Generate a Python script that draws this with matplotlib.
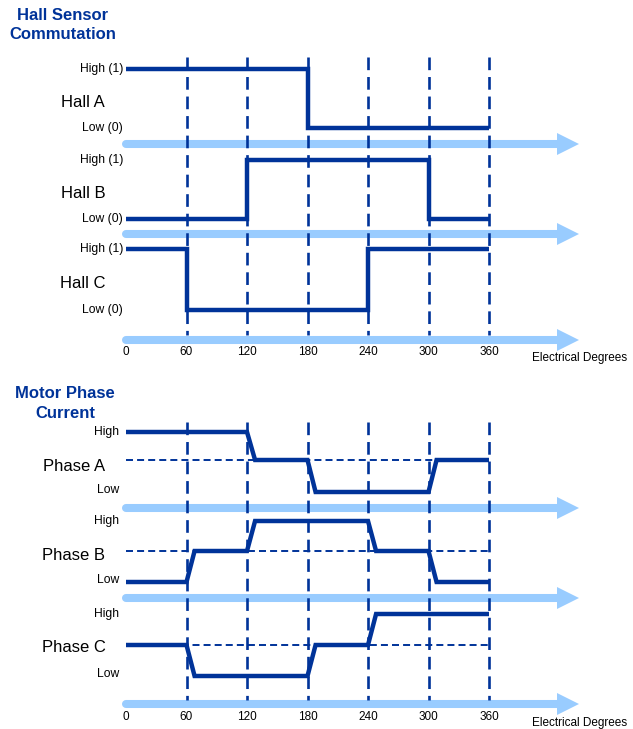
import numpy as np
import matplotlib.pyplot as plt

plt.rcParams['font.family'] = ['Liberation Sans', 'DejaVu Sans']

# ---- data ----
degrees = [0, 60, 120, 180, 240, 300, 360]

hall_names = ['Hall A', 'Hall B', 'Hall C']
hall_a = [1, 1, 1, 0, 0, 0]   # value in each 60 deg sector
hall_b = [0, 0, 1, 1, 1, 0]
hall_c = [1, 0, 0, 0, 1, 1]

phase_names = ['Phase A', 'Phase B', 'Phase C']
phase_a = [1, 1, 0, -1, -1, 0]   # 1 = high, 0 = off, -1 = low
phase_b = [-1, 0, 1, 1, 0, -1]
phase_c = [0, -1, -1, 0, 1, 1]
ramp = 8   # degrees taken by a current transition

# ---- layout (pixel rows, image is 633 x 729) ----
dark = '#003399'
light = '#99CCFF'
px_per_deg = 363 / 360
x0 = 126

hall_rows = [  # high, low, arrow, label y
    (69, 128, 144, 102),
    (160, 219, 234, 193),
    (249, 310, 340, 283),
]
phase_rows = [  # high, mid, low, arrow, label y
    (432, 460, 492, 508, 466),
    (521, 551, 582, 598, 556),
    (614, 645, 676, 704, 648),
]

fig = plt.figure(figsize=(6.33, 7.29), dpi=100)
ax = fig.add_axes([0, 0, 1, 1])
ax.set_xlim(-x0 / px_per_deg, (633 - x0) / px_per_deg)
ax.set_ylim(729, 0)
ax.axis('off')


def deg(px):
    return (px - x0) / px_per_deg


def arrow(y):
    head_base, tip = deg(557), deg(579)
    ax.plot([0, head_base + 1], [y, y], color=light, lw=5.8,
            solid_capstyle='round', zorder=1)
    ax.fill([head_base, tip, head_base], [y - 11, y, y + 11],
            color=light, lw=0, zorder=1)


def vdash(top, bottom):
    for d in degrees[1:]:
        ax.plot([d, d], [top, bottom], color=dark, lw=1.9,
                linestyle=(0, (4.8, 2.6)), zorder=2)


def axis_labels(y):
    for d in degrees:
        ax.text(d, y, str(d), ha='center', va='center', fontsize=8.5)
    ax.text(deg(532), y + 6, 'Electrical Degrees', ha='left', va='center',
            fontsize=8.5)


# ---- Hall sensor section ----
ax.text(deg(63), 15, 'Hall Sensor', ha='center', va='center',
        fontsize=12, fontweight='bold', color=dark)
ax.text(deg(63), 34, 'Commutation', ha='center', va='center',
        fontsize=12, fontweight='bold', color=dark)

vdash(57, 335)
for name, vals, (hi, lo, ay, ly) in zip(hall_names, [hall_a, hall_b, hall_c], hall_rows):
    arrow(ay)
    ys = [lo + (hi - lo) * v for v in vals + [vals[-1]]]
    ax.step(degrees, ys, where='post', color=dark, lw=3.2,
            solid_capstyle='butt', solid_joinstyle='miter', zorder=3)
    ax.text(deg(83), ly, name, ha='center', va='center', fontsize=12)
    ax.text(deg(123), hi, 'High (1)', ha='right', va='center', fontsize=8.7)
    ax.text(deg(123), lo, 'Low (0)', ha='right', va='center', fontsize=8.7)
axis_labels(352)

# ---- Motor phase current section ----
ax.text(deg(65), 393, 'Motor Phase', ha='center', va='center',
        fontsize=12, fontweight='bold', color=dark)
ax.text(deg(65), 413, 'Current', ha='center', va='center',
        fontsize=12, fontweight='bold', color=dark)

vdash(422, 700)
for name, vals, (hi, mid, lo, ay, ly) in zip(phase_names, [phase_a, phase_b, phase_c], phase_rows):
    arrow(ay)
    ax.plot([0, 360], [mid, mid], color=dark, lw=1.4,
            linestyle=(0, (3.6, 2.1)), zorder=2)
    xs, vs = [0], [vals[0]]
    for i in range(1, len(vals)):
        if vals[i] != vals[i - 1]:
            xs += [degrees[i], degrees[i] + ramp]
            vs += [vals[i - 1], vals[i]]
    xs.append(360)
    vs.append(vals[-1])
    ys = np.interp(vs, [-1, 0, 1], [lo, mid, hi])
    ax.plot(xs, ys, color=dark, lw=3.2, solid_capstyle='butt',
            solid_joinstyle='miter', zorder=3)
    ax.text(deg(74), ly, name, ha='center', va='center', fontsize=12)
    ax.text(deg(119), hi, 'High', ha='right', va='center', fontsize=8.7)
    ax.text(deg(119), lo - 2, 'Low', ha='right', va='center', fontsize=8.7)
axis_labels(717)

fig.savefig('out.png', dpi=100)
